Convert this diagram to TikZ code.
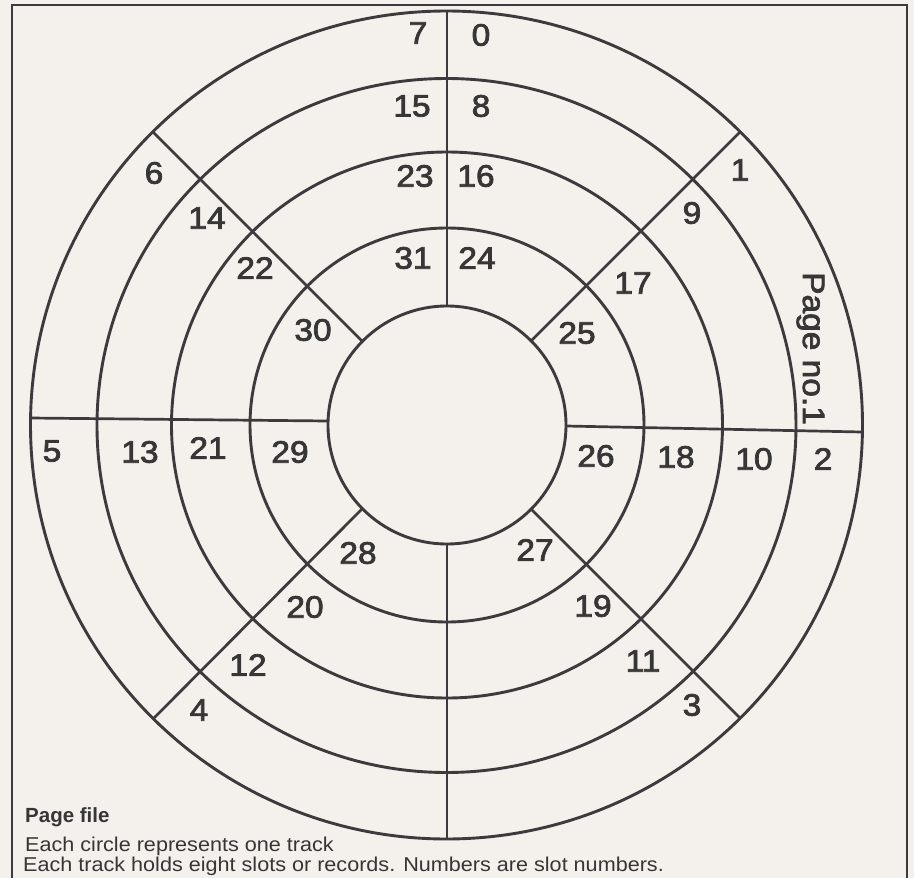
\documentclass[tikz,border=0pt]{standalone}
\usepackage{fontspec}
\setmainfont{Liberation Sans}
\newfontfamily\digitfont[FakeStretch=1.08,FakeBold=2.4]{Liberation Sans}
\newfontfamily\footfont[FakeStretch=1.08]{Liberation Sans}
\definecolor{paper}{HTML}{F4F0EB}
\definecolor{ink}{HTML}{3C3A3C}
\definecolor{inkt}{HTML}{363636}
\begin{document}
\begin{tikzpicture}[x=1pt,y=-1pt,
  ring/.style={draw=ink, line width=2.9pt},
  spoke/.style={draw=ink, line width=2.7pt},
  frameline/.style={draw=ink, line width=2.2pt},
  num/.style={inner sep=0pt, text=inkt, font=\digitfont\fontsize{31}{31}\selectfont},
  pagelbl/.style={inner sep=0pt, text=inkt, font=\digitfont\fontsize{31}{31}\selectfont},
  foot/.style={inner sep=0pt, text=inkt, font=\footfont\fontsize{20}{20}\selectfont},
  foothead/.style={inner sep=0pt, text=inkt, font=\bfseries\fontsize{20.5}{21}\selectfont}]
\useasboundingbox (0,0) rectangle (914,878);
\fill[paper] (0,0) rectangle (914,878);
% frame
\draw[frameline] (12,880) -- (12,5) -- (907,5) -- (907,880);
% tracks
\coordinate (c) at (446.5,425);
\draw[ring] (c) ellipse [x radius=416pt, y radius=414pt];
\draw[ring] (446.5,425.5) ellipse [x radius=349.5pt, y radius=347pt];
\draw[ring] (447,425) ellipse [x radius=275.5pt, y radius=273pt];
\draw[ring] (447,425) ellipse [x radius=197pt, y radius=197pt];
\draw[ring] (447,425) ellipse [x radius=119pt, y radius=119pt];
% spoke end points
\coordinate (vt1) at (447,11);  \coordinate (vt2) at (447,306);
\coordinate (vb1) at (447,544); \coordinate (vb2) at (447,839);
\coordinate (hl1) at (30,418);  \coordinate (hl2) at (328,421);
\coordinate (hr1) at (566,426); \coordinate (hr2) at (862,432);
\coordinate (ne1) at (531,341); \coordinate (ne2) at (740,132);
\coordinate (nw1) at (362,341); \coordinate (nw2) at (153,132);
\coordinate (sw1) at (362,509); \coordinate (sw2) at (154,718);
\coordinate (se1) at (531,509); \coordinate (se2) at (740,718);
\draw[spoke] (vt1) -- (vt2);
\draw[spoke] (vb1) -- (vb2);
\draw[spoke] (hl1) -- (hl2);
\draw[spoke] (hr1) -- (hr2);
\draw[spoke] (ne1) -- (ne2);
\draw[spoke] (nw1) -- (nw2);
\draw[spoke] (sw1) -- (sw2);
\draw[spoke] (se1) -- (se2);
% slot numbers
\node[num] (s7) at (418,33) {7};
\node[num] (s0) at (481,35) {0};
\node[num] (s15) at (412,106) {15};
\node[num] (s8) at (481,106) {8};
\node[num] (s23) at (415,176) {23};
\node[num] (s16) at (476,176) {16};
\node[num] (s31) at (413,258) {31};
\node[num] (s24) at (477,258) {24};
\node[num] (s6) at (154,173) {6};
\node[num] (s14) at (207,218) {14};
\node[num] (s22) at (255,268) {22};
\node[num] (s30) at (313,330) {30};
\node[num] (s1) at (740,170) {1};
\node[num] (s9) at (692,213) {9};
\node[num] (s17) at (633,283) {17};
\node[num] (s25) at (577,333) {25};
\node[num] (s5) at (52,451) {5};
\node[num] (s13) at (140,452) {13};
\node[num] (s21) at (208,448) {21};
\node[num] (s29) at (290,452) {29};
\node[num] (s26) at (596,456) {26};
\node[num] (s18) at (676,457) {18};
\node[num] (s10) at (754,459) {10};
\node[num] (s2) at (823,459) {2};
\node[num] (s28) at (358,553) {28};
\node[num] (s20) at (305,607) {20};
\node[num] (s12) at (248,665) {12};
\node[num] (s4) at (199,710) {4};
\node[num] (s27) at (535,550) {27};
\node[num] (s19) at (593,606) {19};
\node[num] (s11) at (643,661) {11};
\node[num] (s3) at (692,705) {3};
% page label
\node[pagelbl, rotate=-90, anchor=base west] (pg) at (803,272) {Page no.1};
% caption
\node[foothead, anchor=base west] (cap0) at (25,822) {Page file};
\node[foot, anchor=base west] (cap1) at (25,851) {Each circle represents one track};
\node[foot, anchor=base west] (cap2) at (23,871) {Each track holds eight slots or records. Numbers are slot numbers.};
\end{tikzpicture}
\end{document}
